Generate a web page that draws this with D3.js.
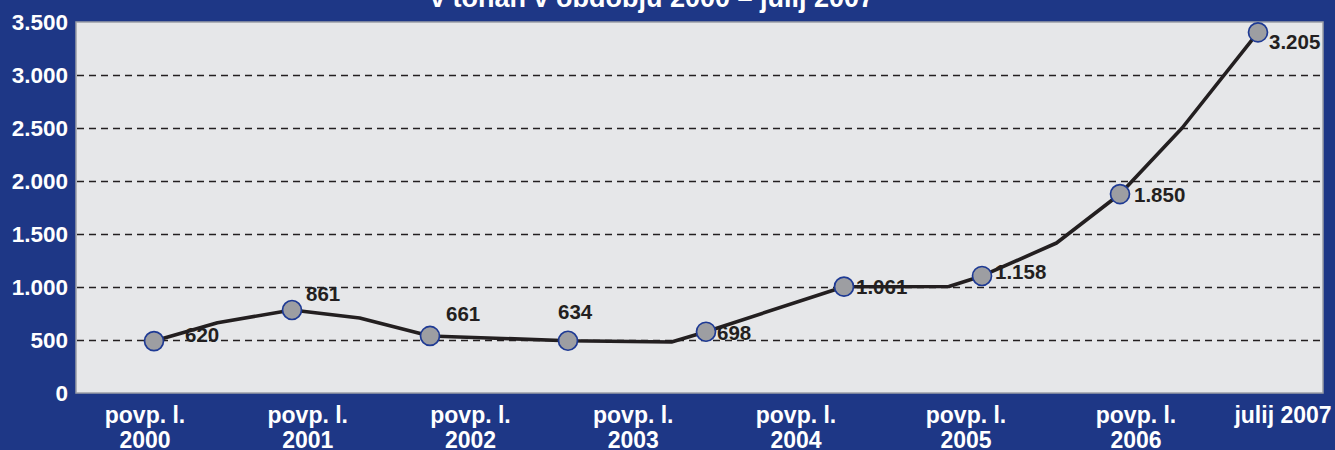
<!DOCTYPE html>
<html>
<head>
<meta charset="utf-8">
<script src="https://cdn.jsdelivr.net/npm/d3@7"></script>
<style>
  html, body { margin: 0; padding: 0; background: #1e3786; }
  svg { display: block; font-family: "Liberation Sans", Arial, sans-serif; font-weight: bold; }
</style>
</head>
<body>
<svg id="chart" width="1335" height="450"></svg>
<script>
// categories on the x axis
const categories = [["povp. l.", "2000"], ["povp. l.", "2001"], ["povp. l.", "2002"], ["povp. l.", "2003"],
                    ["povp. l.", "2004"], ["povp. l.", "2005"], ["povp. l.", "2006"], ["julij 2007"]];
// markers as drawn (value on y axis)
const pointValues = [490, 783, 538, 493, 578, 1003, 1104, 1877, 3403];
// printed labels next to the markers
const pointLabels = [620, 861, 661, 634, 698, 1061, 1158, 1850, 3205];
// the line has its own vertices (index position, value)
const lineIdx = [0, 0.46, 1, 1.49, 2, 3, 3.75, 4, 5, 5.76, 6, 6.54, 7, 7.45, 8];
const lineVal = [490, 663, 783, 708, 538, 493, 481, 578, 1003, 1005, 1104, 1415, 1877, 2500, 3403];
const yTicks = [0, 500, 1000, 1500, 2000, 2500, 3000, 3500];
const title = "v tonah v obdobju 2000 – julij 2007";

// label nudges relative to each marker (dx, dy)
const labelOffset = [[31, 1], [14, -9], [16, -15], [-10, -22], [11, 8], [12, 7], [13, 3], [14, 8], [11, 17]];

const svg = d3.select("#chart");
const plot = {left: 76, top: 22, right: 1323, bottom: 393};

const sl = d3.formatLocale({decimal: ",", thousands: ".", grouping: [3], currency: ["", "€"]});
const fmt = sl.format(",d");

const y = d3.scaleLinear().domain([0, 3500]).range([plot.bottom, plot.top]);
const x = d3.scaleLinear().domain([0, 8]).range([154, 1258]);
// category labels are not evenly spaced in the original
const xl = d3.scaleLinear().domain([0, 4, 6, 7]).range([145, 796, 1136, 1283]);

// title (cut at top edge)
svg.append("text")
    .attr("x", 652).attr("y", 7)
    .attr("text-anchor", "middle")
    .attr("fill", "#fff")
    .attr("font-size", 27)
    .text(title);

// plot background
svg.append("rect")
    .attr("x", plot.left).attr("y", plot.top)
    .attr("width", plot.right - plot.left).attr("height", plot.bottom - plot.top)
    .attr("fill", "#e6e7e9")
    .attr("stroke", "#9b9ea6")
    .attr("stroke-width", 1.5);

// dashed grid
svg.append("g")
    .selectAll("line")
    .data(yTicks.filter(function(d){ return d > 0 && d < 3500; }))
    .enter()
    .append("line")
    .attr("x1", plot.left + 1).attr("x2", plot.right - 1)
    .attr("y1", function(d){ return Math.round(y(d)) + 0.5; })
    .attr("y2", function(d){ return Math.round(y(d)) + 0.5; })
    .attr("stroke", "#231f20")
    .attr("stroke-width", 1.3)
    .attr("stroke-dasharray", "7,5");

// y axis
const yAxis = svg.append("g")
    .attr("transform", "translate(" + plot.left + ",0)")
    .call(d3.axisLeft(y).tickValues(yTicks).tickFormat(fmt).tickSize(0).tickPadding(8));
yAxis.select(".domain").remove();
yAxis.selectAll("text")
    .attr("fill", "#fff")
    .attr("font-size", 22.5)
    .attr("font-family", "Liberation Sans, Arial, sans-serif")
    .attr("font-weight", "bold");

// x labels
const xg = svg.append("g")
    .selectAll("text")
    .data(categories)
    .enter()
    .append("text")
    .attr("x", function(d, i){ return xl(i); })
    .attr("y", 423)
    .attr("text-anchor", "middle")
    .attr("fill", "#fff")
    .attr("font-size", 23);
xg.selectAll("tspan")
    .data(function(d){ return d; })
    .enter()
    .append("tspan")
    .attr("x", function(){ return d3.select(this.parentNode).attr("x"); })
    .attr("dy", function(d, i){ return i == 0 ? 0 : 25; })
    .text(function(d){ return d; });

// line
const line = d3.line()
    .x(function(d){ return x(d[0]); })
    .y(function(d){ return y(d[1]); });
svg.append("path")
    .datum(d3.zip(lineIdx, lineVal))
    .attr("d", line)
    .attr("fill", "none")
    .attr("stroke", "#231f20")
    .attr("stroke-width", 3.6)
    .attr("stroke-linejoin", "round");

// markers
svg.append("g")
    .selectAll("circle")
    .data(pointValues)
    .enter()
    .append("circle")
    .attr("cx", function(d, i){ return x(i); })
    .attr("cy", function(d){ return y(d); })
    .attr("r", 9.5)
    .attr("fill", "#9d9ea2")
    .attr("stroke", "#1e3a94")
    .attr("stroke-width", 1.7);

// value labels
svg.append("g")
    .selectAll("text")
    .data(pointLabels)
    .enter()
    .append("text")
    .attr("x", function(d, i){ return x(i) + labelOffset[i][0]; })
    .attr("y", function(d, i){ return y(pointValues[i]) + labelOffset[i][1]; })
    .attr("fill", "#231f20")
    .attr("font-size", 20.5)
    .text(function(d){ return fmt(d); });
</script>
</body>
</html>
